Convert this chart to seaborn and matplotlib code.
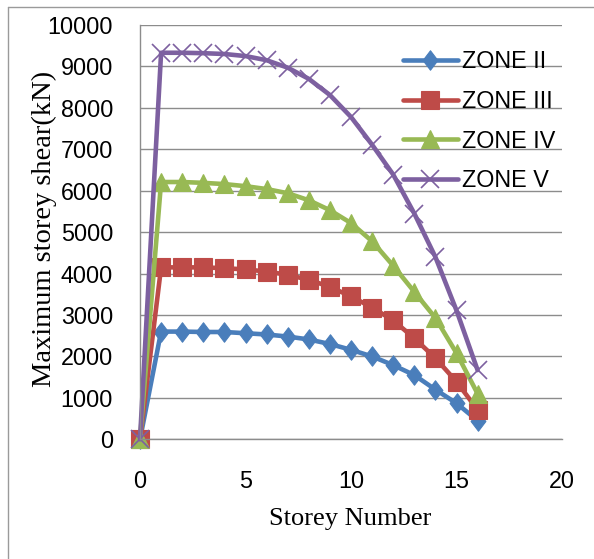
import matplotlib
matplotlib.use("Agg")
import matplotlib.pyplot as plt
from matplotlib.lines import Line2D
from matplotlib.path import Path
import seaborn as sns

# Storey shear per storey for each seismic zone (kN)
storeys = list(range(0, 17))
zone_ii = [0, 2600, 2600, 2590, 2590, 2560, 2530, 2480, 2410, 2300, 2160, 2000, 1790, 1550, 1200, 870, 450]
zone_iii = [0, 4150, 4150, 4150, 4130, 4100, 4050, 3970, 3850, 3680, 3450, 3180, 2870, 2440, 1960, 1390, 710]
zone_iv = [0, 6210, 6210, 6190, 6160, 6110, 6040, 5940, 5770, 5530, 5220, 4780, 4190, 3560, 2930, 2080, 1100]
zone_v = [0, 9330, 9330, 9320, 9300, 9250, 9150, 8970, 8700, 8310, 7780, 7110, 6390, 5450, 4400, 3110, 1670]
zone_names = ["ZONE II", "ZONE III", "ZONE IV", "ZONE V"]
x_ticks = [0, 5, 10, 15, 20]
y_ticks = list(range(0, 10001, 1000))

sns.set_theme(style="white")
plt.rcParams["font.family"] = ["Liberation Sans", "DejaVu Sans"]

fig = plt.figure(figsize=(5.94, 5.59), dpi=100)
ax = fig.add_axes([140 / 594, 1 - 439.3 / 559, 422 / 594, 414.3 / 559])

tall_diamond = Path([(0, 1), (0.76, 0), (0, -1), (-0.76, 0), (0, 1)],
                    [Path.MOVETO, Path.LINETO, Path.LINETO, Path.LINETO, Path.CLOSEPOLY])

styles = [
    dict(color="#4A7EBB", marker=tall_diamond, markersize=14, mew=0.8),
    dict(color="#BE4B48", marker="s", markersize=12.5, mew=0.8),
    dict(color="#98B954", marker="^", markersize=13.5, mew=0.8),
    dict(color="#7D60A0", marker="x", markersize=13, mew=1.2),
]
series = [zone_ii, zone_iii, zone_iv, zone_v]

for name, vals, st in zip(zone_names, series, styles):
    sns.lineplot(x=storeys, y=vals, ax=ax, label=name, color=st["color"],
                 marker=st["marker"], markersize=st["markersize"],
                 mec=st["color"], mfc=st["color"], mew=st["mew"],
                 lw=3.3, clip_on=False)

ax.set_xlim(0, 20)
ax.set_ylim(0, 10000)
ax.set_xticks(x_ticks)
ax.set_yticks(y_ticks)
ax.grid(axis="y", color="#8C8C8C", lw=1.0)
ax.grid(axis="x", visible=False)
ax.set_axisbelow(True)
for side in ("top", "right"):
    ax.spines[side].set_visible(False)
for side in ("left", "bottom"):
    ax.spines[side].set_color("#8C8C8C")
    ax.spines[side].set_linewidth(1.0)

ax.tick_params(axis="y", length=0, pad=19.4, labelsize=16.8, labelcolor="black")
ax.tick_params(axis="x", length=0, pad=22, labelsize=16.8, labelcolor="black")

ax.set_xlabel("Storey Number", fontsize=19, family="Liberation Serif", color="black")
ax.set_ylabel("Maximum storey shear(kN)", fontsize=20.5, family="Liberation Serif", color="black")
ax.xaxis.set_label_coords(0.4976, -0.165)
ax.yaxis.set_label_coords(-0.196, 0.5076)

leg = ax.legend(loc="upper left", bbox_to_anchor=(403 / 594, 1 - 50 / 559),
                bbox_transform=fig.transFigure, frameon=False, fontsize=16.8,
                handlelength=2.35, handletextpad=0.17, borderpad=0,
                borderaxespad=0, labelspacing=0.72)
for t in leg.get_texts():
    t.set_color("black")

# chart area border
fig.add_artist(Line2D([8 / 594, 8 / 594], [0, 1 - 7 / 559], transform=fig.transFigure,
                      color="#9A9A9A", lw=1.0))
fig.add_artist(Line2D([8 / 594, 1], [1 - 7 / 559, 1 - 7 / 559], transform=fig.transFigure,
                      color="#9A9A9A", lw=1.0))

fig.savefig("out.png", dpi=100)
